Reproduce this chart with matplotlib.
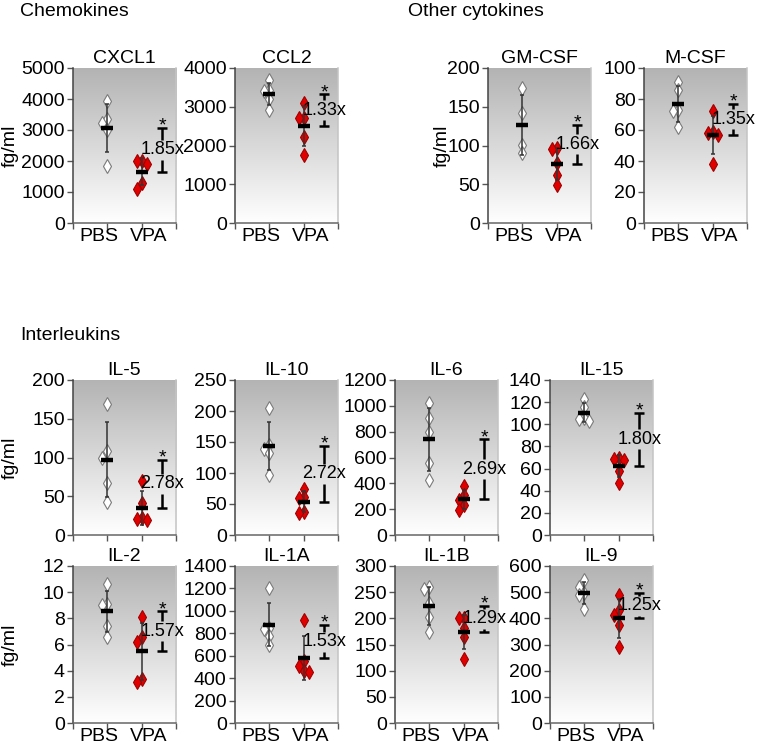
import numpy as np
import matplotlib.pyplot as plt
from matplotlib.colors import LinearSegmentedColormap

plt.rcParams['font.family'] = ['Liberation Sans', 'DejaVu Sans']

# ---- data (fg/ml) ----
names = ['CXCL1', 'CCL2', 'GM-CSF', 'M-CSF',
         'IL-5', 'IL-10', 'IL-6', 'IL-15',
         'IL-2', 'IL-1A', 'IL-1B', 'IL-9']

pbs_cxcl1 = [3950, 3350, 3230, 3000, 1850]
vpa_cxcl1 = [2000, 2000, 1900, 1300, 1100]
pbs_ccl2 = [3690, 3420, 3400, 3200, 2910]
vpa_ccl2 = [3090, 2720, 2700, 2220, 1750]
pbs_gmcsf = [174, 142, 101, 90]
vpa_gmcsf = [97, 95, 78, 62, 49]
pbs_mcsf = [91, 86, 73, 72, 62]
vpa_mcsf = [72, 59, 58, 57, 38]
pbs_il5 = [169, 108, 100, 67, 43]
vpa_il5 = [70, 41, 22, 21, 20]
pbs_il10 = [205, 145, 138, 132, 97]
vpa_il10 = [75, 62, 60, 37, 36]
pbs_il6 = [1019, 903, 794, 555, 426]
vpa_il6 = [380, 310, 270, 230, 190]
pbs_il15 = [123, 116, 106, 105, 103]
vpa_il15 = [70, 69, 68, 58, 47]
pbs_il2 = [10.6, 9.1, 9.0, 7.4, 6.6]
vpa_il2 = [8.1, 6.6, 6.2, 3.4, 3.1]
pbs_il1a = [1200, 850, 840, 780, 700]
vpa_il1a = [920, 550, 510, 460, 455]
pbs_il1b = [259, 256, 230, 203, 173]
vpa_il1b = [200, 200, 182, 165, 123]
pbs_il9 = [545, 520, 498, 490, 435]
vpa_il9 = [489, 432, 413, 375, 289]

pbs_all = [pbs_cxcl1, pbs_ccl2, pbs_gmcsf, pbs_mcsf, pbs_il5, pbs_il10,
           pbs_il6, pbs_il15, pbs_il2, pbs_il1a, pbs_il1b, pbs_il9]
vpa_all = [vpa_cxcl1, vpa_ccl2, vpa_gmcsf, vpa_mcsf, vpa_il5, vpa_il10,
           vpa_il6, vpa_il15, vpa_il2, vpa_il1a, vpa_il1b, vpa_il9]

y_max = [5000, 4000, 200, 100, 200, 250, 1200, 140, 12, 1400, 300, 600]
y_step = [1000, 1000, 50, 20, 50, 50, 200, 20, 2, 200, 50, 100]
fold_labels = ['1.85x', '1.33x', '1.66x', '1.35x', '2.78x', '2.72x',
               '2.69x', '1.80x', '1.57x', '1.53x', '1.29x', '1.25x']
groups = ['PBS', 'VPA']

# ---- layout (pixels) ----
W, H = 761, 744
fig = plt.figure(figsize=(W / 100, H / 100), dpi=100)

col_top = [73, 235, 488, 644]
col_il = [73, 235, 395, 550]
rects = []
for c in col_top:
    rects.append((c, 68, 103, 155))
for c in col_il:
    rects.append((c, 380, 103, 155))
for c in col_il:
    rects.append((c, 566, 103, 157))
ylabel_panels = {0: -0.53, 2: -0.365, 4: -0.53, 8: -0.53}
no_xlabels = [4, 5, 6, 7]

grad = LinearSegmentedColormap.from_list('g', ['#ffffff', '#b3b3b3'])


def swarm(vals, ymax, hpx, d=0.15):
    placed = []
    offs = []
    for v in vals:
        for cand in [0, -d, d, -2 * d, 2 * d]:
            ok = True
            for pv, po in placed:
                if abs(cand - po) < d * 0.9 and abs(v - pv) / ymax * hpx < 7:
                    ok = False
                    break
            if ok:
                break
        placed.append((v, cand))
        offs.append(cand)
    return np.array(offs)


for i, (l, t, w, h) in enumerate(rects):
    ax = fig.add_axes([l / W, 1 - (t + h) / H, w / W, h / H])
    ymax = y_max[i]
    ax.imshow(np.linspace(0, 1, 256).reshape(-1, 1), cmap=grad, aspect='auto',
              extent=(0, 3, 0, ymax), origin='lower', zorder=0)

    for k, (vals, face, edge) in enumerate([(pbs_all[i], 'white', '#7a7a7a'),
                                            (vpa_all[i], '#e00000', '#a00000')]):
        vals = np.array(vals, dtype=float)
        x0 = k + 1
        xs = x0 + swarm(vals, ymax, h)
        ax.plot(xs, vals, 'd', ms=7.5, mfc=face, mec=edge, mew=0.8, zorder=3)
        m = vals.mean()
        sd = vals.std(ddof=1)
        ax.errorbar([x0], [m], yerr=[sd], fmt='none', ecolor='#333333',
                    elinewidth=1.1, capsize=1.5, capthick=1.1, zorder=4)
        ax.hlines(m, x0 - 0.17, x0 + 0.17, color='black', lw=3.2, zorder=5)

    # significance bracket
    m1 = np.mean(pbs_all[i])
    m2 = np.mean(vpa_all[i])
    bx = 2.6
    ax.hlines([m1, m2], bx - 0.14, bx + 0.14, color='black', lw=1.8, zorder=5)
    mid = (m1 + m2) / 2
    gap = 10 / h * ymax
    if m1 - mid > gap:
        ax.vlines(bx, mid + gap, m1, color='black', lw=1.8, zorder=5)
        ax.vlines(bx, m2, mid - gap, color='black', lw=1.8, zorder=5)
    ax.text(bx, mid, fold_labels[i], ha='center', va='center', fontsize=13,
            zorder=6, clip_on=False)
    ax.annotate('*', (bx, m1), xytext=(0, -2), textcoords='offset points',
                ha='center', va='baseline', fontsize=14, zorder=6,
                annotation_clip=False)

    ax.set_xlim(0, 3)
    ax.set_ylim(0, ymax)
    ax.set_yticks(np.arange(0, ymax + y_step[i] / 2, y_step[i]))
    ax.set_xticks([0, 1, 2, 3])
    ax.set_xticklabels([])
    if i not in no_xlabels:
        ax.set_xticks([0.75, 2.2], minor=True)
        ax.set_xticklabels(groups, minor=True)
    ax.tick_params(axis='both', which='major', direction='out', length=4,
                   width=1, color='#555555', labelsize=14, pad=2)
    ax.tick_params(axis='x', which='minor', length=0, labelsize=14, pad=3.5)
    ax.set_title(names[i], fontsize=14, pad=3.4)
    ax.spines['top'].set_visible(False)
    ax.spines['left'].set_color('#444444')
    ax.spines['bottom'].set_color('#666666')
    ax.spines['right'].set_color('#c4c4c4')
    for s in ['left', 'bottom', 'right']:
        ax.spines[s].set_linewidth(1.1)
    if i in ylabel_panels:
        ax.set_ylabel('fg/ml', fontsize=14)
        ax.yaxis.set_label_coords(ylabel_panels[i], 0.5)

fig.text(20 / W, 1 - 16 / H, 'Chemokines', fontsize=14, va='baseline')
fig.text(408 / W, 1 - 16 / H, 'Other cytokines', fontsize=14, va='baseline')
fig.text(20 / W, 1 - 340 / H, 'Interleukins', fontsize=14, va='baseline')

fig.savefig('out.png', dpi=100)
